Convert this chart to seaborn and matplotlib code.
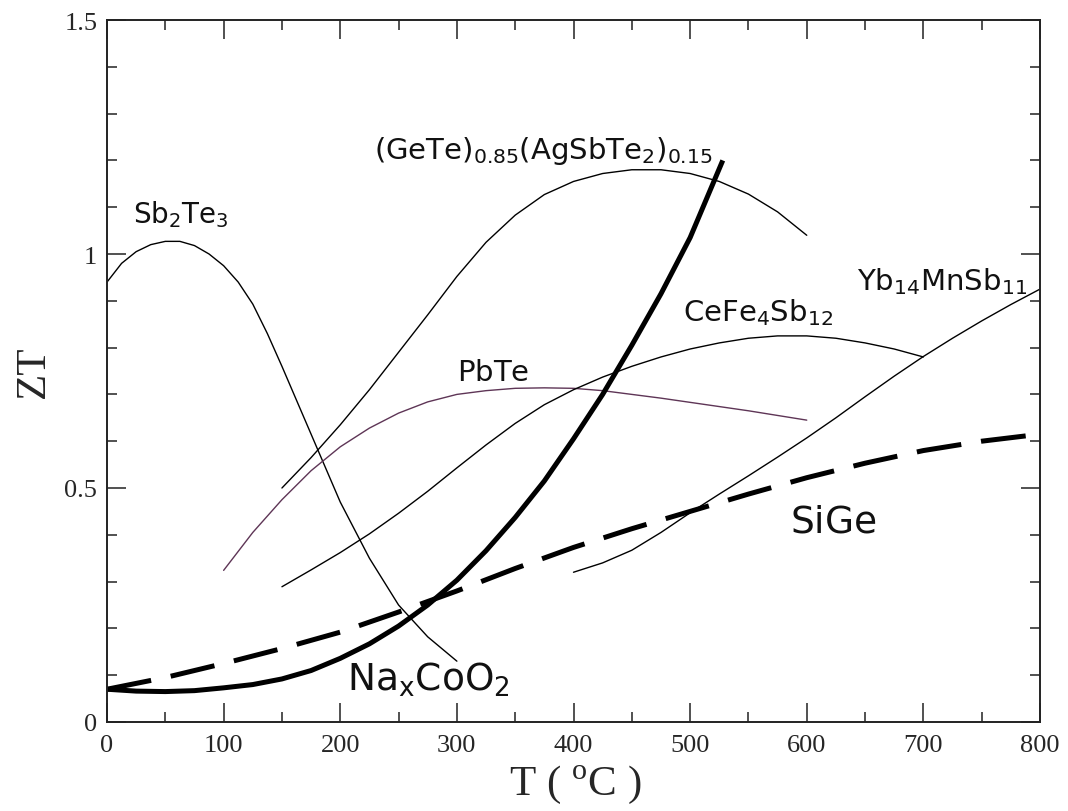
import matplotlib
matplotlib.use("Agg")
import matplotlib.pyplot as plt
from matplotlib.ticker import MultipleLocator
import seaborn as sns
import pandas as pd

# ---- data ----
sb2te3_T = [0, 12.5, 25, 37.5, 50, 62.5, 75, 87.5, 100, 112.5, 125, 137.5, 150, 175, 200, 225, 250, 275, 300]
sb2te3_ZT = [0.94, 0.98, 1.005, 1.02, 1.027, 1.027, 1.018, 1.0, 0.975, 0.94, 0.893, 0.83, 0.76,
             0.615, 0.47, 0.35, 0.25, 0.182, 0.13]

gete_T = [150, 175, 200, 225, 250, 275, 300, 325, 350, 375, 400, 425, 450, 475, 500, 525, 550, 575, 600]
gete_ZT = [0.50, 0.565, 0.635, 0.71, 0.79, 0.87, 0.952, 1.025, 1.083, 1.127, 1.155, 1.172, 1.18, 1.18,
           1.172, 1.155, 1.128, 1.09, 1.04]

pbte_T = [100, 125, 150, 175, 200, 225, 250, 275, 300, 325, 350, 375, 400, 425, 450, 475, 500, 525, 550, 575, 600]
pbte_ZT = [0.324, 0.405, 0.475, 0.537, 0.588, 0.628, 0.66, 0.684, 0.70, 0.708, 0.713, 0.714, 0.713, 0.708,
           0.70, 0.692, 0.683, 0.674, 0.665, 0.655, 0.645]

cefe_T = [150, 175, 200, 225, 250, 275, 300, 325, 350, 375, 400, 425, 450, 475, 500, 525, 550, 575, 600,
          625, 650, 675, 700]
cefe_ZT = [0.289, 0.325, 0.362, 0.402, 0.446, 0.493, 0.543, 0.592, 0.638, 0.678, 0.71, 0.737, 0.76, 0.78,
           0.797, 0.81, 0.82, 0.825, 0.825, 0.82, 0.81, 0.797, 0.78]

yb_T = [400, 425, 450, 475, 500, 525, 550, 575, 600, 625, 650, 675, 700, 725, 750, 775, 800]
yb_ZT = [0.32, 0.34, 0.367, 0.405, 0.447, 0.487, 0.526, 0.566, 0.607, 0.65, 0.695, 0.739, 0.781, 0.82,
         0.857, 0.892, 0.925]

sige_T = [0, 50, 100, 150, 200, 250, 300, 350, 400, 450, 500, 550, 600, 650, 700, 750, 800]
sige_ZT = [0.07, 0.095, 0.125, 0.157, 0.192, 0.235, 0.28, 0.328, 0.373, 0.413, 0.45, 0.487, 0.522,
           0.553, 0.58, 0.60, 0.615]

naco_T = [0, 25, 50, 75, 100, 125, 150, 175, 200, 225, 250, 275, 300, 325, 350, 375, 400, 425, 450,
          475, 500, 528]
naco_ZT = [0.07, 0.066, 0.065, 0.067, 0.073, 0.08, 0.092, 0.11, 0.136, 0.167, 0.205, 0.25, 0.303,
           0.366, 0.437, 0.515, 0.605, 0.70, 0.805, 0.915, 1.035, 1.2]

x_ticks = [0, 100, 200, 300, 400, 500, 600, 700, 800]
y_ticks = [0, 0.5, 1, 1.5]
y_tick_labels = ["0", "0.5", "1", "1.5"]

labels = {
    "Sb2Te3": (r"$\mathregular{Sb_2Te_3}$", 22, 1.068, 20),
    "GeTe": (r"$\mathregular{(GeTe)_{0.85}(AgSbTe_2)_{0.15}}$", 229, 1.205, 21),
    "PbTe": (r"$\mathregular{PbTe}$", 300, 0.730, 21),
    "CeFe": (r"$\mathregular{CeFe_4Sb_{12}}$", 494, 0.858, 21),
    "Yb": (r"$\mathregular{Yb_{14}MnSb_{11}}$", 643, 0.924, 21),
    "SiGe": (r"$\mathregular{SiGe}$", 586, 0.408, 27),
    "NaCo": (r"$\mathregular{Na_xCoO_2}$", 206, 0.069, 27),
}

# ---- plotting ----
sns.set_style("ticks")
plt.rcParams["font.family"] = ["DejaVu Sans"]
plt.rcParams["mathtext.fontset"] = "dejavusans"
plt.rcParams.update({
    "xtick.bottom": True, "xtick.top": True, "ytick.left": True, "ytick.right": True,
    "xtick.direction": "in", "ytick.direction": "in",
    "xtick.major.size": 14, "ytick.major.size": 14,
    "xtick.minor.size": 7.5, "ytick.minor.size": 7.5,
    "xtick.major.width": 1.1, "ytick.major.width": 1.1,
    "xtick.minor.width": 1.1, "ytick.minor.width": 1.1,
})

fig = plt.figure(figsize=(10.68, 8.12), dpi=100)
ax = fig.add_axes([107 / 1068, 89 / 812, 933 / 1068, 702 / 812])

thin = 1.0
series = [
    (sb2te3_T, sb2te3_ZT, "black", thin),
    (gete_T, gete_ZT, "black", thin),
    (pbte_T, pbte_ZT, "#5e3556", thin),
    (cefe_T, cefe_ZT, "black", thin),
    (yb_T, yb_ZT, "black", thin),
]
for T, Z, c, lw in series:
    df = pd.DataFrame({"T": T, "ZT": Z})
    sns.lineplot(data=df, x="T", y="ZT", ax=ax, color=c, linewidth=lw, sort=False, estimator=None)

df = pd.DataFrame({"T": sige_T, "ZT": sige_ZT})
sns.lineplot(data=df, x="T", y="ZT", ax=ax, color="black", linewidth=3.6, sort=False, estimator=None)
ax.lines[-1].set_linestyle((0, (9, 4)))
ax.lines[-1].set_dash_capstyle("butt")

df = pd.DataFrame({"T": naco_T, "ZT": naco_ZT})
sns.lineplot(data=df, x="T", y="ZT", ax=ax, color="black", linewidth=3.6, sort=False, estimator=None)
ax.lines[-1].set_solid_capstyle("butt")
ax.lines[-1].set_solid_joinstyle("round")

ax.set_xlim(0, 800)
ax.set_ylim(0, 1.5)
ax.set_xticks(x_ticks)
ax.set_xticklabels([str(v) for v in x_ticks])
ax.set_yticks(y_ticks)
ax.set_yticklabels(y_tick_labels)
ax.xaxis.set_minor_locator(MultipleLocator(50))
ax.yaxis.set_minor_locator(MultipleLocator(0.1))
ax.tick_params(which="both", direction="in", bottom=True, left=True, top=True, right=True,
               color="#222222")
ax.tick_params(which="major", length=14, width=1.1)
ax.tick_params(which="minor", length=7.5, width=1.1)
ax.tick_params(axis="x", which="major", pad=9)
ax.tick_params(axis="y", which="major", pad=7)
for lab in ax.get_xticklabels() + ax.get_yticklabels():
    lab.set_fontfamily("Liberation Serif")
    lab.set_fontsize(19)
for sp in ax.spines.values():
    sp.set_visible(True)
    sp.set_linewidth(1.4)
    sp.set_color("#222222")

ax.set_xlabel("")
ax.set_ylabel("")
fig.text(34 / 1068, 1 - 372 / 812, "ZT", family="Liberation Serif", fontsize=31,
         rotation=90, ha="center", va="center")
fig.text(575 / 1068, 1 - 785 / 812, r"T ( $^{\mathregular{o}}$C )", family="Liberation Serif",
         fontsize=31, ha="center", va="center")

for key, (txt, tx, ty, fs) in labels.items():
    ax.text(tx, ty, txt, fontsize=fs, ha="left", va="baseline", color="#111111")

fig.savefig("out.png", dpi=100, facecolor="white")
